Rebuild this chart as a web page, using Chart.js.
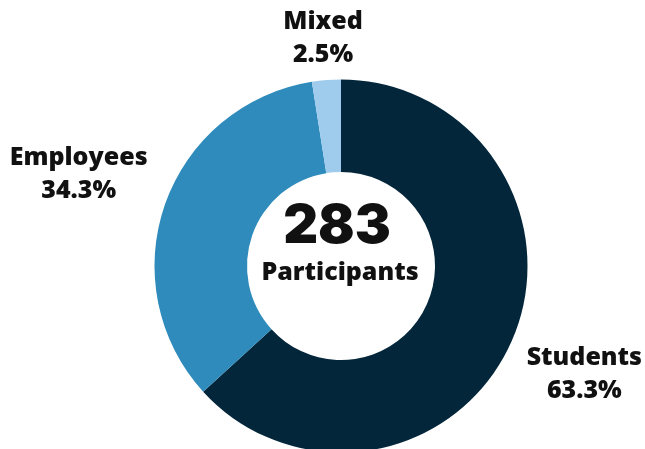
<!DOCTYPE html>
<html>
<head>
<meta charset="utf-8">
<script src="https://cdn.jsdelivr.net/npm/chart.js@4"></script>
<style>
  html, body { margin: 0; padding: 0; background: #fff; overflow: hidden; }
  #wrap { position: relative; width: 645px; height: 460px; }
</style>
</head>
<body>
<div id="wrap"><canvas id="chart-participants"></canvas></div>
<script>
// Datos del gráfico
const groups = ['Students', 'Employees', 'Mixed'];
const shares = [63.3, 34.3, 2.5];
const sliceColors = ['#03263a', '#2e8bbb', '#9fcbed'];
const totalLabel = '283';
const totalCaption = 'Participants';

// distancia de cada etiqueta desde el centro (px)
const labelDist = [266, 278, 229];

const outsideLabels = {
  id: 'outsideLabels',
  afterDatasetsDraw(chart) {
    const { ctx } = chart;
    const meta = chart.getDatasetMeta(0);
    ctx.save();
    ctx.fillStyle = '#111';
    ctx.textAlign = 'center';
    ctx.textBaseline = 'middle';
    ctx.font = '800 25px "Open Sans"';
    meta.data.forEach((arc, i) => {
      const mid = (arc.startAngle + arc.endAngle) / 2;
      const x = arc.x + Math.cos(mid) * labelDist[i];
      const y = arc.y + Math.sin(mid) * labelDist[i];
      ctx.fillText(groups[i], x, y - 16);
      ctx.fillText(shares[i].toFixed(1) + '%', x, y + 17);
    });

    // texto central
    const c = meta.data[0];
    ctx.font = '900 54px Inter';
    ctx.fillText(totalLabel, c.x - 4, c.y - 39);
    ctx.font = '800 25px "Open Sans"';
    ctx.fillText(totalCaption, c.x - 1, c.y + 7);
    ctx.restore();
  }
};

new Chart(document.getElementById('chart-participants'), {
  type: 'doughnut',
  data: {
    labels: groups,
    datasets: [{
      data: shares,
      backgroundColor: sliceColors,
      borderWidth: 0,
    }],
  },
  options: {
    responsive: true,
    maintainAspectRatio: false,
    animation: false,
    cutout: '50.4%',
    layout: { padding: { left: 154.5, right: 117.5, top: 79.5, bottom: 7.5 } },
    plugins: {
      legend: { display: false },
      tooltip: { enabled: false },
    },
  },
  plugins: [outsideLabels],
});
</script>
</body>
</html>
